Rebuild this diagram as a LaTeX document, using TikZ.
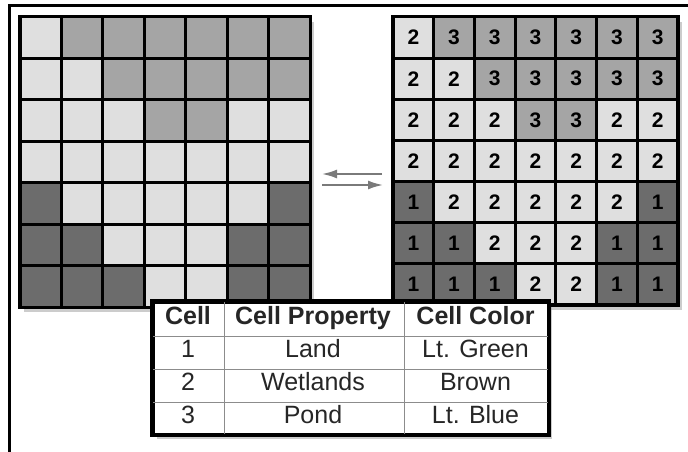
\documentclass[tikz,border=0pt]{standalone}
\usepackage{fontspec}
\setmainfont{Liberation Sans}
\usetikzlibrary{arrows.meta,positioning,calc,shadows,matrix}
\definecolor{cell1}{HTML}{6C6C6C}
\definecolor{cell2}{HTML}{DFDFDF}
\definecolor{cell3}{HTML}{A5A5A5}
\definecolor{flowgray}{HTML}{7A7A7A}
\newcommand{\celldigit}{\fontsize{21}{24}\selectfont\bfseries}

\begin{document}
\begin{tikzpicture}[x=1pt, y=-1pt,
  gridback/.style={draw=black, fill=black, line width=4pt, inner sep=0pt, outer sep=0pt,
    drop shadow={shadow xshift=4pt, shadow yshift=-5pt, fill=black!40}},
  cellbox/.style={draw=black, line width=3pt, inner sep=0pt, outer sep=0pt},
  digit/.style={font=\celldigit, text=black},
  flow/.style={-{Latex[length=15pt,width=9pt]}, line width=2pt, draw=flowgray},
  rule/.style={draw=black!45, line width=0.8pt}]
\useasboundingbox (0,0) rectangle (688,452);
\draw[line width=3pt] (9.5,452) -- (9.5,6) -- (688,6);

% left grid (colours only)
\node[gridback, minimum width=290pt, minimum height=290pt] (lgrid) at (165,162) {};
\foreach \r/\vals in {1/{2,3,3,3,3,3,3}, 2/{2,2,3,3,3,3,3}, 3/{2,2,2,3,3,2,2},
  4/{2,2,2,2,2,2,2}, 5/{1,2,2,2,2,2,1}, 6/{1,1,2,2,2,1,1}, 7/{1,1,1,2,2,1,1}}{
  \foreach \v [count=\c] in \vals {
    \node[cellbox, fill=cell\v, minimum width=41.43pt, minimum height=41.43pt]
      (L-\r-\c) at ({20+(\c-0.5)*41.43},{17+(\r-0.5)*41.43}) {};
  }
}

% right grid (numbered)
\node[gridback, minimum width=285pt, minimum height=288pt] (rgrid) at (535.5,161) {};
\foreach \r/\vals in {1/{2,3,3,3,3,3,3}, 2/{2,2,3,3,3,3,3}, 3/{2,2,2,3,3,2,2},
  4/{2,2,2,2,2,2,2}, 5/{1,2,2,2,2,2,1}, 6/{1,1,2,2,2,1,1}, 7/{1,1,1,2,2,1,1}}{
  \foreach \v [count=\c] in \vals {
    \node[cellbox, digit, fill=cell\v, minimum width=40.71pt, minimum height=41.14pt]
      (R-\r-\c) at ({393+(\c-0.5)*40.71},{17+(\r-0.5)*41.14}) {\v};
  }
}

\draw[flow] ([xshift=-11pt,yshift=-13pt]rgrid.west) -- ([xshift=12pt,yshift=-12pt]lgrid.east);
\draw[flow] ([xshift=12pt,yshift=-23pt]lgrid.east) -- ([xshift=-10pt,yshift=-24pt]rgrid.west);

% legend table
\matrix (legend) [matrix of nodes, draw=black, fill=white, line width=3pt, inner sep=0pt,
  drop shadow={shadow xshift=4pt, shadow yshift=-5pt, fill=black!40},
  nodes={inner xsep=0pt, inner ysep=4.5pt, text height=18pt, text depth=6pt,
    font=\fontsize{25}{25}\selectfont, text=black!85},
  row 1/.style={nodes={font=\fontsize{25}{25}\selectfont\bfseries}},
  column 1/.style={nodes={minimum width=70pt}},
  column 2/.style={nodes={minimum width=180pt}},
  column 3/.style={nodes={minimum width=145pt}}] at (350.5,368) {
  Cell & Cell Property & Cell Color \\
  1 & Land & Lt. Green \\
  2 & Wetlands & Brown \\
  3 & Pond & Lt. Blue \\
};
\foreach \r in {1,2,3}
  \draw[rule] (legend-\r-1.south west) -- (legend-\r-3.south east);
\foreach \c in {1,2}
  \draw[rule] (legend-1-\c.north east) -- (legend-4-\c.south east);
\draw[line width=3pt] (legend.north west) rectangle (legend.south east);
\end{tikzpicture}
\end{document}
